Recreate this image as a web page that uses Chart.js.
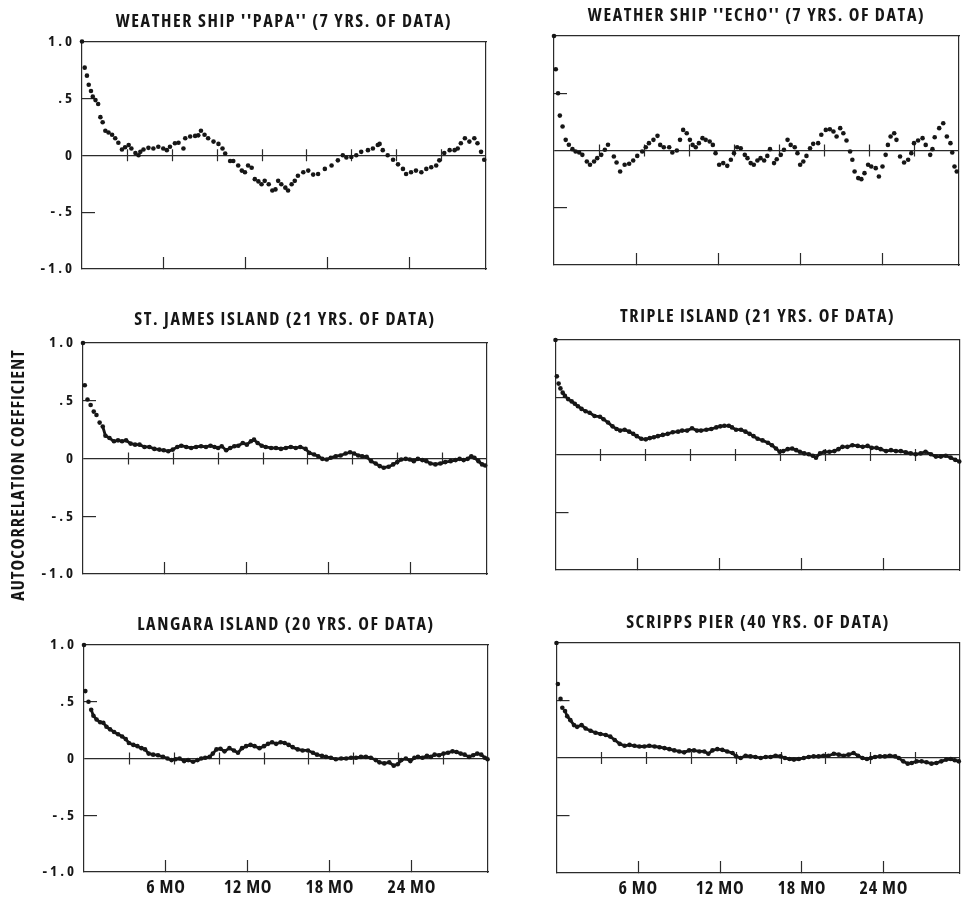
<!DOCTYPE html>
<html>
<head>
<meta charset="utf-8">
<script src="https://cdn.jsdelivr.net/npm/chart.js"></script>
<style>
html,body{margin:0;padding:0;background:#fff;}
#wrap{position:relative;width:962px;height:901px;overflow:hidden;background:#fff;}
#wrap canvas{position:absolute;left:0;top:0;}
</style>
</head>
<body>
<div id="wrap">
<canvas id="c0" width="962" height="901"></canvas>
<canvas id="c1" width="962" height="901"></canvas>
<canvas id="c2" width="962" height="901"></canvas>
<canvas id="c3" width="962" height="901"></canvas>
<canvas id="c4" width="962" height="901"></canvas>
<canvas id="c5" width="962" height="901"></canvas>
</div>
<script>
// ---------- DATA (lag in days, autocorrelation coefficient) ----------
const PANEL_TITLES = [
  "WEATHER SHIP ''PAPA'' (7 YRS. OF DATA)",
  "WEATHER SHIP ''ECHO'' (7 YRS. OF DATA)",
  "ST. JAMES ISLAND (21 YRS. OF DATA)",
  "TRIPLE ISLAND (21 YRS. OF DATA)",
  "LANGARA ISLAND (20 YRS. OF DATA)",
  "SCRIPPS PIER (40 YRS. OF DATA)"
];
const Y_AXIS_TITLE = 'AUTOCORRELATION COEFFICIENT';
const X_TICK_DAYS = [182.6, 365.3, 547.9, 730.5];
const X_TICK_LABELS = ['6 MO', '12 MO', '18 MO', '24 MO'];
const Y_TICK_VALUES = [-1, -0.5, 0, 0.5, 1];
const Y_TICK_LABELS = ['-1.0', '-.5', '0', '.5', '1.0'];
const ZERO_TICK_DAYS = [100, 200, 300, 400, 500, 600, 700, 800];

const papaLag = [0,6,11,15,20,24,30,36,41,46,52,59,67,74,81,89,96,104,110,119,126,130,137,148,159,170,181,189,196,207,215,226,230,241,252,259,265,273,281,293,304,313,319,330,337,348,356,363,370,378,385,393,400,407,416,424,431,437,444,453,459,467,474,481,493,504,515,526,541,556,570,581,589,600,611,622,637,648,659,663,670,681,693,704,715,722,733,744,756,767,778,789,796,807,819,830,837,844,853,863,874,881,889,896];
const papaR = [1.0,0.77,0.70,0.62,0.565,0.515,0.485,0.45,0.335,0.29,0.215,0.20,0.18,0.15,0.11,0.05,0.07,0.09,0.06,0.02,0.0,0.03,0.05,0.065,0.06,0.075,0.06,0.045,0.075,0.105,0.11,0.06,0.15,0.165,0.17,0.175,0.215,0.18,0.15,0.12,0.10,0.06,0.015,-0.05,-0.05,-0.09,-0.135,-0.15,-0.09,-0.11,-0.21,-0.23,-0.255,-0.225,-0.255,-0.31,-0.30,-0.225,-0.255,-0.285,-0.31,-0.255,-0.225,-0.18,-0.15,-0.135,-0.17,-0.165,-0.12,-0.09,-0.045,0.0,-0.02,-0.015,0.0,0.03,0.045,0.06,0.09,0.10,0.045,0.0,-0.04,-0.08,-0.12,-0.165,-0.15,-0.135,-0.15,-0.12,-0.105,-0.09,-0.045,0.02,0.045,0.045,0.06,0.105,0.15,0.12,0.15,0.105,0.03,-0.04];

const echoLag = [0,4,9,13,19,26,33,41,48,56,63,73,80,89,96,105,113,120,133,139,147,157,167,176,185,196,204,211,221,230,236,244,256,263,273,280,287,295,302,308,315,322,330,337,346,353,359,367,376,385,393,400,407,415,424,430,437,444,452,459,467,474,480,489,495,504,511,519,526,535,541,547,554,561,569,576,587,594,604,613,621,628,636,643,650,658,663,668,676,683,690,698,705,715,722,730,737,742,748,756,761,769,778,787,794,800,809,819,826,836,841,846,856,865,873,881,885,890,895];
const echoR = [1.0,0.71,0.50,0.305,0.21,0.093,0.05,0.012,-0.009,-0.017,-0.038,-0.096,-0.125,-0.096,-0.067,-0.038,0.006,0.05,-0.052,-0.105,-0.183,-0.125,-0.116,-0.087,-0.047,-0.009,0.029,0.064,0.093,0.128,0.049,0.029,0.029,-0.017,0.0,0.093,0.18,0.151,0.093,0.049,0.029,0.064,0.108,0.093,0.078,0.049,-0.023,-0.125,-0.11,-0.134,-0.081,-0.023,0.029,0.02,-0.038,-0.067,-0.11,-0.125,-0.087,-0.067,-0.087,-0.047,0.012,-0.11,-0.076,-0.038,0.006,0.093,0.049,0.029,-0.023,-0.125,-0.096,-0.047,0.02,0.058,0.064,0.137,0.18,0.186,0.166,0.122,0.195,0.151,0.087,-0.009,-0.081,-0.183,-0.241,-0.25,-0.198,-0.125,-0.14,-0.154,-0.227,-0.14,-0.038,0.049,0.122,0.151,0.093,-0.052,-0.105,-0.081,-0.023,0.064,0.087,0.108,0.049,-0.038,0.012,0.116,0.195,0.238,0.122,0.064,-0.017,-0.14,-0.183];

const stJamesLag = [0,4,10,17,24,30,37,44,50,59,69,78,87,96,106,116,126,137,148,159,170,180,190,200,210,219,230,241,252,263,274,284,293,301,309,319,328,337,346,356,365,374,381,389,398,407,419,430,441,452,463,474,484,496,504,515,524,533,543,552,563,574,585,595,604,613,622,632,642,652,661,670,681,691,700,709,719,728,737,746,756,765,774,785,796,807,819,830,839,848,857,865,872,881,889,896];
const stJamesR = [1.0,0.634,0.511,0.463,0.406,0.377,0.311,0.277,0.197,0.177,0.149,0.157,0.149,0.157,0.129,0.12,0.12,0.10,0.10,0.083,0.077,0.071,0.063,0.077,0.10,0.111,0.10,0.091,0.10,0.106,0.10,0.111,0.10,0.091,0.106,0.071,0.091,0.106,0.111,0.134,0.12,0.149,0.163,0.134,0.111,0.10,0.091,0.091,0.083,0.091,0.10,0.091,0.10,0.083,0.049,0.034,0.02,-0.003,-0.009,0.006,0.02,0.026,0.043,0.054,0.043,0.026,0.02,0.014,-0.023,-0.043,-0.066,-0.08,-0.071,-0.051,-0.031,-0.009,-0.003,-0.009,-0.023,-0.003,-0.014,-0.023,-0.043,-0.051,-0.043,-0.031,-0.023,-0.014,-0.003,-0.014,-0.003,0.02,0.006,-0.023,-0.051,-0.06];

const tripleLag = [0,3,7,11,16,21,28,36,43,50,58,67,76,87,99,107,117,127,136,144,154,164,173,181,191,201,210,219,228,239,250,261,273,282,293,304,315,324,336,347,358,367,376,386,393,402,413,423,432,441,450,461,473,482,491,499,507,517,527,536,544,554,564,573,580,589,599,610,621,630,639,650,661,673,684,695,704,715,724,736,747,758,769,780,791,802,813,824,836,847,858,869,880,890,899];
const tripleR = [1.0,0.684,0.621,0.579,0.542,0.514,0.486,0.466,0.446,0.424,0.401,0.381,0.367,0.339,0.333,0.311,0.282,0.249,0.226,0.212,0.22,0.203,0.184,0.164,0.141,0.136,0.147,0.155,0.164,0.175,0.184,0.198,0.203,0.212,0.212,0.232,0.212,0.212,0.22,0.226,0.24,0.249,0.254,0.254,0.24,0.22,0.22,0.203,0.184,0.164,0.141,0.127,0.107,0.085,0.056,0.028,0.034,0.051,0.056,0.042,0.028,0.014,0.006,-0.006,-0.023,0.014,0.028,0.028,0.034,0.051,0.071,0.071,0.085,0.079,0.071,0.079,0.062,0.062,0.051,0.034,0.042,0.034,0.034,0.023,0.014,0.006,0.014,0.028,0.006,-0.014,-0.014,-0.006,-0.023,-0.042,-0.056];

const langaraLag = [0,3,10,16,21,28,36,43,50,58,67,76,85,93,100,110,119,128,136,144,154,165,176,186,195,204,213,223,232,243,253,261,270,280,287,295,304,313,324,334,343,352,361,371,380,391,401,410,419,428,438,447,456,465,476,487,499,510,519,530,539,550,561,573,584,595,606,617,628,639,650,658,669,680,690,699,707,717,727,736,744,754,764,773,781,791,801,811,821,830,839,848,858,867,876,885,893,899];
const langaraR = [1.0,0.594,0.50,0.429,0.377,0.343,0.32,0.314,0.28,0.257,0.234,0.214,0.194,0.171,0.137,0.12,0.109,0.091,0.08,0.043,0.034,0.029,0.014,0.0,-0.014,-0.006,0.0,-0.023,-0.014,-0.029,-0.014,0.0,0.006,0.014,0.043,0.08,0.086,0.063,0.091,0.071,0.051,0.091,0.109,0.12,0.109,0.091,0.109,0.129,0.143,0.129,0.143,0.137,0.12,0.10,0.08,0.071,0.071,0.051,0.034,0.023,0.014,0.006,-0.006,0.0,0.0,0.006,0.006,0.014,0.014,0.006,-0.014,-0.034,-0.043,-0.034,-0.063,-0.051,-0.014,0.0,-0.023,0.006,0.014,0.006,0.023,0.014,0.034,0.029,0.043,0.051,0.063,0.057,0.043,0.034,0.014,0.029,0.043,0.034,0.006,-0.006];

const scrippsLag = [0,3,9,13,19,24,31,39,46,56,65,76,87,98,110,120,130,141,152,163,174,185,196,207,219,230,241,252,263,274,285,296,307,319,330,339,348,359,370,381,393,401,411,422,433,444,456,467,478,489,500,510,520,530,541,552,563,574,585,596,607,619,630,641,652,663,673,683,693,702,711,722,733,744,756,764,774,784,793,804,815,826,837,848,859,870,880,889,898];
const scrippsR = [1.0,0.643,0.514,0.437,0.409,0.363,0.329,0.286,0.271,0.286,0.257,0.237,0.22,0.209,0.20,0.186,0.157,0.123,0.106,0.114,0.106,0.10,0.10,0.106,0.10,0.094,0.086,0.077,0.066,0.057,0.049,0.066,0.066,0.057,0.057,0.037,0.066,0.077,0.071,0.057,0.043,0.014,0.0,0.02,0.014,0.009,0.0,0.009,0.009,0.02,0.014,0.0,-0.009,-0.014,-0.009,0.0,0.009,0.014,0.014,0.02,0.02,0.037,0.029,0.02,0.029,0.043,0.02,0.0,-0.009,0.0,0.009,0.014,0.014,0.02,0.014,0.0,-0.029,-0.049,-0.043,-0.029,-0.029,-0.037,-0.049,-0.043,-0.029,-0.014,-0.009,-0.02,-0.029];

// ---------- LAYOUT / STYLE ----------
const PANEL_BOXES = [
  {left:82,    top:41.5, right:486, bottom:269, titleY:22,   yLabels:true,  xLabels:false, lineFrom:9999},
  {left:554,   top:36,   right:959, bottom:265, titleY:15.5, yLabels:false, xLabels:false, lineFrom:9999},
  {left:83,    top:343,  right:487, bottom:574, titleY:320,  yLabels:true,  xLabels:false, lineFrom:44},
  {left:555.5, top:340,  right:961, bottom:570, titleY:317,  yLabels:false, xLabels:false, lineFrom:16},
  {left:84,    top:645,  right:488, bottom:875, titleY:625,  yLabels:true,  xLabels:true,  lineFrom:16},
  {left:556.5, top:643,  right:961, bottom:873, titleY:623,  yLabels:false, xLabels:true,  lineFrom:19}
];
const Y_TITLE_POS = {x: 19, y: 475};
const FONT = "'Open Sans','DejaVu Sans Condensed',sans-serif";
const WEIGHT = 'bold condensed';
const INK = '#161616';
const AXIS = '#2b2b2b';
const W = 962, H = 901;
Chart.defaults.font.family = FONT;

const textSpacing = {
  id: 'textSpacing',
  beforeDraw(chart, args, opts) {
    chart.ctx.letterSpacing = opts.title || '0px';
    for (const id in chart.scales) {
      const s = chart.scales[id];
      if (s.__spaced) continue;
      const orig = s.drawLabels;
      s.drawLabels = function (ca) {
        const c = this.ctx, prev = c.letterSpacing;
        c.letterSpacing = (this.axis === 'x' ? opts.x : opts.y) || '0px';
        orig.call(this, ca);
        c.letterSpacing = prev;
      };
      s.__spaced = true;
    }
  },
  afterDraw(chart) { chart.ctx.letterSpacing = '0px'; }
};

const zeroTicks = {
  id: 'zeroTicks',
  beforeDatasetsDraw(chart) {
    const {ctx, scales} = chart;
    const y0 = scales.y.getPixelForValue(0);
    ctx.save();
    ctx.strokeStyle = AXIS;
    ctx.lineWidth = 1.2;
    ctx.beginPath();
    for (const d of ZERO_TICK_DAYS) {
      const px = Math.round(scales.x.getPixelForValue(d)) + 0.5;
      ctx.moveTo(px, y0 - 6);
      ctx.lineTo(px, y0 + 6);
    }
    ctx.stroke();
    ctx.restore();
  }
};

// shared vertical axis title (drawn once, on the middle-left panel)
const sharedYTitle = {
  id: 'sharedYTitle',
  afterDraw(chart, args, opts) {
    if (!opts || !opts.text) return;
    const ctx = chart.ctx;
    ctx.save();
    ctx.translate(opts.x, opts.y);
    ctx.rotate(-Math.PI / 2);
    ctx.font = WEIGHT + ' 18px ' + FONT;
    ctx.letterSpacing = '1px';
    ctx.fillStyle = INK;
    ctx.textAlign = 'center';
    ctx.textBaseline = 'middle';
    ctx.fillText(opts.text, 0, 0);
    ctx.restore();
    ctx.letterSpacing = '0px';
  }
};

function makeChart(i, lags, vals) {
  const box = PANEL_BOXES[i];
  const Wy = box.yLabels ? 70 : 20;
  const Hx = 30;
  const TS = 18, TLH = 1.2, th = TS * TLH;
  const padTop = box.titleY - th / 2;
  const titleGap = box.top - padTop - th;
  const useLine = box.lineFrom < 900;
  return new Chart(document.getElementById('c' + i), {
    type: 'scatter',
    data: {
      datasets: [{
        data: lags.map((x, k) => ({x: x, y: vals[k]})),
        pointRadius: 2.3,
        pointHoverRadius: 2.3,
        pointBackgroundColor: INK,
        pointBorderWidth: 0,
        showLine: useLine,
        borderColor: INK,
        borderWidth: 2.8,
        borderJoinStyle: 'round',
        borderCapStyle: 'round',
        segment: {borderColor: c => c.p0.parsed.x < box.lineFrom ? 'rgba(0,0,0,0)' : INK},
        clip: 6
      }]
    },
    options: {
      responsive: false,
      animation: false,
      devicePixelRatio: 1,
      events: [],
      layout: {padding: {left: box.left - Wy, top: padTop, right: W - box.right, bottom: H - box.bottom - Hx}},
      plugins: {
        legend: {display: false},
        tooltip: {enabled: false},
        title: {
          display: true, text: PANEL_TITLES[i], fullSize: false, color: INK,
          font: {family: FONT, size: TS, weight: WEIGHT, lineHeight: TLH},
          padding: {top: 0, bottom: titleGap}
        },
        textSpacing: {title: '1.6px', x: '0.8px', y: '3px'},
        sharedYTitle: i === 2 ? {text: Y_AXIS_TITLE, x: Y_TITLE_POS.x, y: Y_TITLE_POS.y} : {text: ''}
      },
      scales: {
        x: {
          type: 'linear', position: 'bottom', min: 0, max: 900,
          afterBuildTicks: s => { s.ticks = X_TICK_DAYS.map(v => ({value: v})); },
          afterFit: s => { s.height = Hx; },
          grid: {drawOnChartArea: false, drawTicks: true, tickLength: -12, tickColor: AXIS, tickWidth: 1.2},
          border: {display: true, color: AXIS, width: 1.2},
          ticks: {
            display: box.xLabels, padding: 17, autoSkip: false, maxRotation: 0, color: INK,
            font: {family: FONT, size: 18, weight: WEIGHT},
            callback: (v, idx) => X_TICK_LABELS[idx]
          }
        },
        y: {
          type: 'linear', position: 'left', min: -1, max: 1,
          afterBuildTicks: s => { s.ticks = Y_TICK_VALUES.map(v => ({value: v})); },
          afterFit: s => { s.width = Wy; },
          grid: {
            drawOnChartArea: true, drawTicks: true, tickLength: -13, lineWidth: 1.2, tickWidth: 1.2,
            color: c => (c.tick && c.tick.value === 0) ? AXIS : 'rgba(0,0,0,0)',
            tickColor: c => (c.tick && Math.abs(c.tick.value) === 0.5) ? AXIS : 'rgba(0,0,0,0)'
          },
          border: {display: true, color: AXIS, width: 1.2},
          ticks: {
            display: box.yLabels, padding: 20, color: INK,
            font: {family: FONT, size: 15, weight: WEIGHT},
            callback: (v, idx) => Y_TICK_LABELS[idx]
          }
        },
        xTop: {
          type: 'linear', position: 'top', min: 0, max: 900,
          afterFit: s => { s.height = 0; },
          grid: {display: false, drawTicks: false}, ticks: {display: false},
          border: {display: true, color: AXIS, width: 1.2}
        },
        yRight: {
          type: 'linear', position: 'right', min: -1, max: 1,
          afterFit: s => { s.width = 0; },
          grid: {display: false, drawTicks: false}, ticks: {display: false},
          border: {display: true, color: AXIS, width: 1.2}
        }
      }
    },
    plugins: [textSpacing, zeroTicks, sharedYTitle]
  });
}

makeChart(0, papaLag, papaR);
makeChart(1, echoLag, echoR);
makeChart(2, stJamesLag, stJamesR);
makeChart(3, tripleLag, tripleR);
makeChart(4, langaraLag, langaraR);
makeChart(5, scrippsLag, scrippsR);
</script>
</body>
</html>
